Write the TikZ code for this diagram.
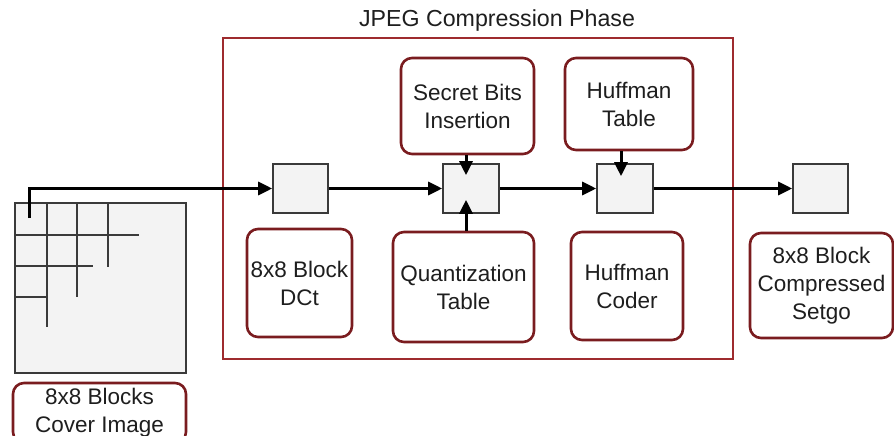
\documentclass[tikz,border=0pt]{standalone}
\usepackage{fontspec}
\setmainfont{Liberation Sans}
\usetikzlibrary{arrows.meta,calc}
\definecolor{boxred}{HTML}{7A1C1F}
\definecolor{framered}{HTML}{9E2B2E}
\definecolor{txt}{HTML}{1E1E1E}
\definecolor{cellfill}{HTML}{F3F3F3}
\definecolor{cellline}{HTML}{3A3A3A}
\tikzset{
  lbl/.style={draw=boxred, line width=2.6pt, rounded corners=11pt, fill=white,
    text=txt, font=\fontsize{22.5}{28}\selectfont, align=center, inner sep=0pt},
  cell/.style={draw=cellline, line width=1.6pt, fill=cellfill, inner sep=0pt,
    minimum width=55pt, minimum height=49pt},
  arr/.style={line width=3pt, black, -{Triangle[length=14pt,width=13pt]}},
  grid/.style={draw=cellline, line width=1.8pt}
}
\begin{document}
\begin{tikzpicture}[x=1pt,y=-1pt]
\useasboundingbox (0,0) rectangle (894,436);

% compression stage frame and title
\node[draw=framered, line width=1.5pt, minimum width=510pt, minimum height=321pt, inner sep=0pt]
  (frame) at (478,198.5) {};
\node[text=txt, font=\fontsize{23.2}{26}\selectfont] (title) at (497,21) {JPEG Compression Phase};

% cover image split into 8x8 blocks
\node[draw=cellline, line width=1.6pt, fill=cellfill, inner sep=0pt,
  minimum width=171pt, minimum height=170pt] (cover) at (100.5,288) {};
\draw[grid] (47,203) -- (47,327);
\draw[grid] (77,203) -- (77,297);
\draw[grid] (108,203) -- (108,267);
\draw[grid] (15,235) -- (139,235);
\draw[grid] (15,266) -- (93,266);
\draw[grid] (15,297) -- (47,297);
\coordinate (start) at (29,218);

\node[lbl, minimum width=173pt, minimum height=60pt] (coverlbl) at (99.5,413)
  {8x8 Blocks\\Cover Image};

% block pipeline
\node[cell] (b1) at (300.5,188.5) {};
\node[cell, minimum width=56pt] (b2) at (471,188.5) {};
\node[cell, minimum width=56pt] (b3) at (625,188.5) {};
\node[cell] (b4) at (820.5,188.5) {};

% stage labels
\node[lbl, minimum width=133pt, minimum height=96pt] (secret) at (467.5,106) {Secret Bits\\Insertion};
\node[lbl, minimum width=128pt, minimum height=92pt] (htable) at (629,104) {Huffman\\Table};
\node[lbl, minimum width=105pt, minimum height=108pt] (dct) at (299.5,283) {8x8 Block\\DCt};
\node[lbl, minimum width=141pt, minimum height=110pt] (quant) at (463.5,287) {Quantization\\Table};
\node[lbl, minimum width=112pt, minimum height=108pt] (hcoder) at (627,286) {Huffman\\Coder};
\node[lbl, minimum width=143pt, minimum height=105pt] (setgo) at (821.5,285.5) {8x8 Block\\Compressed\\Setgo};

% data flow
\draw[arr] (start) |- (b1.west);
\draw[arr] (b1) -- (b2);
\draw[arr] (b2) -- (b3);
\draw[arr] (b3) -- (b4);
\draw[arr] ($(secret.south)+(-1.5,0)$) -- ($(secret.south |- b2.north)+(-1.5,12)$);
\draw[arr] ($(quant.north)+(2.5,0)$) -- ($(quant.north |- b2.south)+(2.5,-14)$);
\draw[arr] ($(htable.south)+(-8,0)$) -- ($(htable.south |- b3.north)+(-8,13)$);
\end{tikzpicture}
\end{document}
